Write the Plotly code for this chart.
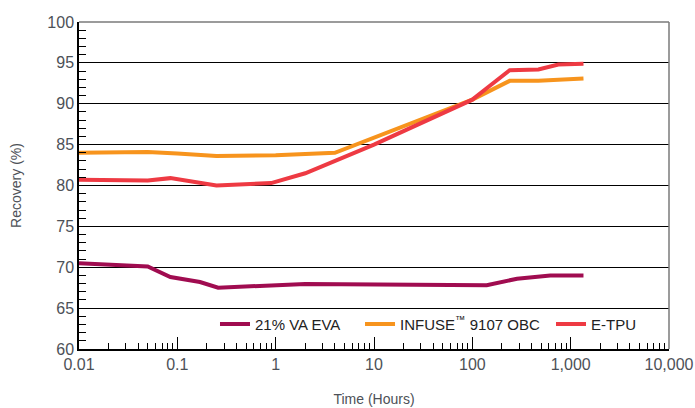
import plotly.graph_objects as go

# Data (time in hours, recovery in %)
eva_x = [0.01, 0.05, 0.085, 0.17, 0.26, 1.0, 2.0, 140, 285, 620, 1350]
eva_y = [70.5, 70.1, 68.8, 68.2, 67.5, 67.8, 67.95, 67.8, 68.6, 69.0, 69.0]

obc_x = [0.01, 0.05, 0.1, 0.25, 1.0, 2.0, 4.0, 100, 240, 470, 1350]
obc_y = [84.0, 84.1, 83.9, 83.6, 83.7, 83.8, 84.0, 90.5, 92.8, 92.8, 93.1]

tpu_x = [0.01, 0.05, 0.085, 0.25, 0.9, 2.0, 10, 100, 140, 240, 470, 750, 1350]
tpu_y = [80.7, 80.6, 80.9, 80.0, 80.3, 81.5, 85.0, 90.5, 91.9, 94.1, 94.2, 94.8, 94.9]

series_names = ["21% VA EVA", "INFUSE<sup>\u2122</sup> 9107 OBC", "E-TPU"]
series_colors = ["#A00C50", "#F7941D", "#EE3A43"]

x_tickvals = [0.01, 0.1, 1, 10, 100, 1000, 10000]
x_ticktext = ["0.01", "0.1", "1", "10", "100", "1,000", "10,000"]
y_tickvals = [60, 65, 70, 75, 80, 85, 90, 95, 100]

TEXT = "#4D5157"
FONT = "Liberation Sans, Arial, sans-serif"

legend_ids = ["legend", "legend2", "legend3"]
legend_xs = [0.2305, 0.4763, 0.8]

fig = go.Figure()
for xs, ys, name, col, lid in zip([eva_x, obc_x, tpu_x], [eva_y, obc_y, tpu_y],
                                  series_names, series_colors, legend_ids):
    fig.add_trace(go.Scatter(x=xs, y=ys, mode="lines", name=name, legend=lid,
                             line=dict(color=col, width=4)))

leg_common = dict(orientation="h", y=0.076, xanchor="left", yanchor="middle",
                  bgcolor="rgba(0,0,0,0)", font=dict(size=15, color="#222", family=FONT),
                  itemwidth=30)

fig.update_layout(
    width=695, height=408,
    margin=dict(l=79, r=26, t=22, b=59),
    plot_bgcolor="white", paper_bgcolor="white",
    font=dict(family=FONT, color=TEXT, size=16),
    showlegend=True,
    legend=dict(x=legend_xs[0], **leg_common),
    legend2=dict(x=legend_xs[1], **leg_common),
    legend3=dict(x=legend_xs[2], **leg_common),
    xaxis=dict(type="log", range=[-2, 4], tickvals=x_tickvals, ticktext=x_ticktext,
               automargin=False,
               showgrid=False, showline=True, linecolor="black", linewidth=1.5,
               ticks="inside", ticklen=12, tickcolor="black", tickwidth=1,
               minor=dict(ticks="inside", ticklen=6, tickcolor="black", dtick="D1", showgrid=False),
               tickfont=dict(size=16, color=TEXT), zeroline=False,
               title=dict(text="Time (Hours)", font=dict(size=14, color=TEXT), standoff=22)),
    yaxis=dict(range=[60, 100], tickvals=y_tickvals, automargin=False,
               showgrid=True, gridcolor="black", gridwidth=1,
               showline=True, linecolor="black", linewidth=1.5,
               ticks="inside", ticklen=7, tickcolor="black", tickwidth=1,
               minor=dict(ticks="inside", ticklen=7, tickcolor="black", dtick=1, showgrid=False),
               tickfont=dict(size=16, color=TEXT), zeroline=False,
               title=dict(text="Recovery (%)", font=dict(size=14, color=TEXT), standoff=22)),
)

# top and right border in gray
fig.add_shape(type="line", xref="paper", yref="paper", x0=0, x1=1, y0=1, y1=1,
              line=dict(color="#7a7a7a", width=1.5))
fig.add_shape(type="line", xref="paper", yref="paper", x0=1, x1=1, y0=0, y1=1,
              line=dict(color="#7a7a7a", width=1.5))

fig.write_html("out.html", config={"displayModeBar": False},
               post_script="document.body.style.margin='0';")
